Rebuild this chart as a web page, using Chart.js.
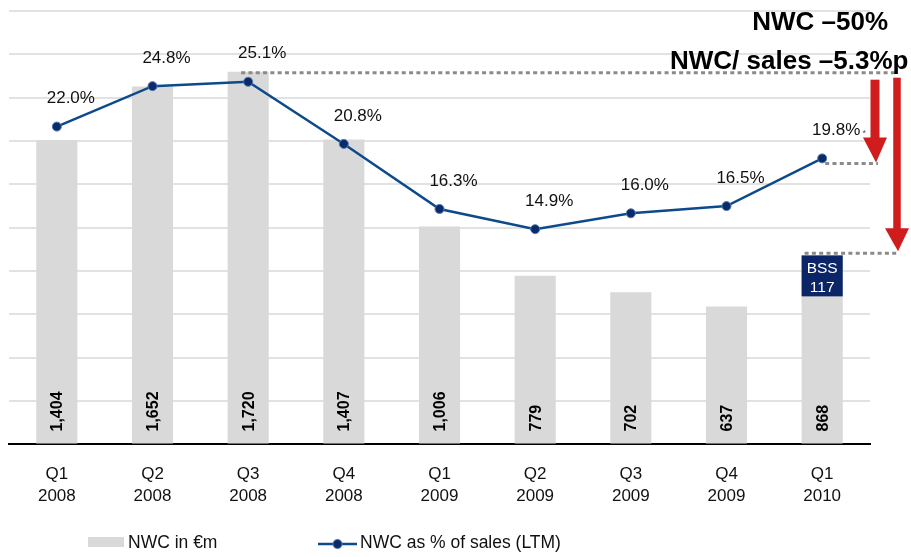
<!DOCTYPE html>
<html>
<head>
<meta charset="utf-8">
<script src="https://cdn.jsdelivr.net/npm/chart.js@4/dist/chart.umd.min.js"></script>
<style>
    html, body { margin: 0; padding: 0; background: #fff; }
    #wrap { width: 911px; height: 557px; position: relative; }
</style>
</head>
<body>
<div id="wrap"><canvas id="nwc-chart"></canvas></div>
<script>
// data
var quarters = [['Q1', '2008'], ['Q2', '2008'], ['Q3', '2008'], ['Q4', '2008'],
                ['Q1', '2009'], ['Q2', '2009'], ['Q3', '2009'], ['Q4', '2009'], ['Q1', '2010']];
var nwcValues = [1404, 1652, 1720, 1407, 1006, 779, 702, 637, 868];
var nwcSalesPct = [22.0, 24.8, 25.1, 20.8, 16.3, 14.9, 16.0, 16.5, 19.8];
var bssLabel = ['BSS', '117'];
var seriesNames = ['NWC in €m', 'NWC as % of sales (LTM)'];
var headlines = ['NWC –50%', 'NWC/ sales –5.3%p'];

var FONT = '"Liberation Sans", Arial, sans-serif';
var BAR_GREY = '#d9d9d9';
var LINE_BLUE = '#0c4a8c';
var DOT_NAVY = '#0a2a68';
var ARROW_RED = '#d01c1c';

function dotted(ctx, x0, x1, y) {
    ctx.save();
    ctx.strokeStyle = '#8a8a8a';
    ctx.lineWidth = 3;
    ctx.setLineDash([4, 3.3]);
    ctx.beginPath();
    ctx.moveTo(x0, y);
    ctx.lineTo(x1, y);
    ctx.stroke();
    ctx.restore();
}

function arrow(ctx, x, yTop, yTip, shaftW, headW, headH) {
    ctx.save();
    ctx.fillStyle = ARROW_RED;
    ctx.fillRect(x - shaftW / 2, yTop, shaftW, yTip - headH - yTop + 1);
    ctx.beginPath();
    ctx.moveTo(x - headW / 2, yTip - headH);
    ctx.lineTo(x + headW / 2, yTip - headH);
    ctx.lineTo(x + 1, yTip);
    ctx.closePath();
    ctx.fill();
    ctx.restore();
}

// labels, BSS box, dotted guides and arrows
var overlayPlugin = {
    id: 'overlay',
    afterDatasetsDraw: function(chart) {
        var ctx = chart.ctx;
        var area = chart.chartArea;
        var yBar = chart.scales.y;
        var yPct = chart.scales.y1;
        var bars = chart.getDatasetMeta(0).data;
        var points = chart.getDatasetMeta(1).data;
        var last = bars.length - 1;

        ctx.save();

        // BSS box on top of the last bar
        var b = bars[last];
        var bw = b.width;
        ctx.fillStyle = '#0b2566';
        ctx.fillRect(b.x - bw / 2, b.y - 1, bw, 41);
        ctx.fillStyle = '#fff';
        ctx.font = '15.5px ' + FONT;
        ctx.textAlign = 'center';
        ctx.textBaseline = 'middle';
        ctx.fillText(bssLabel[0], b.x, b.y + 12);
        ctx.fillText(bssLabel[1], b.x, b.y + 31);

        // bar values, rotated
        ctx.fillStyle = '#000';
        ctx.font = 'bold 16px ' + FONT;
        ctx.textAlign = 'left';
        ctx.textBaseline = 'middle';
        bars.forEach(function(bar, i) {
            ctx.save();
            ctx.translate(bar.x + 1, yBar.getPixelForValue(0) - 13);
            ctx.rotate(-Math.PI / 2);
            ctx.fillText(nwcValues[i].toLocaleString('en-US'), 0, 0);
            ctx.restore();
        });

        // percentage labels
        ctx.font = '17px ' + FONT;
        ctx.fillStyle = '#111';
        ctx.textAlign = 'center';
        points.forEach(function(pt, i) {
            ctx.fillText(nwcSalesPct[i].toFixed(1) + '%', pt.x + 14, pt.y - 28);
        });
        ctx.font = '9px ' + FONT;
        ctx.fillStyle = '#555';
        ctx.fillText('*', points[last].x + 42, points[last].y - 25);

        // dotted guides
        var yPeak = yBar.getPixelForValue(nwcValues[2]) + 1;
        var yNow = yPct.getPixelForValue(nwcSalesPct[last]) + 5;
        var yBarNow = yBar.getPixelForValue(nwcValues[last]) - 3;
        dotted(ctx, points[2].x - 7, area.right + 27, yPeak);
        dotted(ctx, points[last].x + 3, area.right + 8, yNow);
        dotted(ctx, b.x - bw / 2 + 3, area.right + 27, yBarNow);

        // red arrows
        arrow(ctx, area.right + 5, yPeak + 7, yNow - 1, 9, 24, 25);
        arrow(ctx, area.right + 27, yPeak + 5, yBarNow - 2, 7.5, 24, 23);

        // headlines
        ctx.fillStyle = '#000';
        ctx.font = 'bold 26px ' + FONT;
        ctx.textBaseline = 'alphabetic';
        ctx.textAlign = 'right';
        ctx.fillText(headlines[0], 888, 30);
        ctx.textAlign = 'left';
        ctx.fillText(headlines[1], 670, 69);

        ctx.restore();
    },
    afterDraw: function(chart) {
        // legend along the bottom
        var ctx = chart.ctx;
        ctx.save();
        ctx.fillStyle = BAR_GREY;
        ctx.fillRect(88, 537, 36, 10);
        ctx.strokeStyle = LINE_BLUE;
        ctx.lineWidth = 2.5;
        ctx.beginPath();
        ctx.moveTo(318, 544);
        ctx.lineTo(357, 544);
        ctx.stroke();
        ctx.beginPath();
        ctx.arc(337.5, 544, 4.5, 0, Math.PI * 2);
        ctx.fillStyle = DOT_NAVY;
        ctx.fill();
        ctx.lineWidth = 1;
        ctx.strokeStyle = '#4f78b5';
        ctx.stroke();
        ctx.fillStyle = '#111';
        ctx.font = '17.5px ' + FONT;
        ctx.textAlign = 'left';
        ctx.textBaseline = 'middle';
        ctx.fillText(seriesNames[0], 128, 543);
        ctx.fillText(seriesNames[1], 360, 543);
        ctx.restore();
    }
};

var nwcCtx = document.getElementById('nwc-chart');
var nwcChart = new Chart(nwcCtx, {
    type: 'bar',
    data: {
        labels: quarters,
        datasets: [{
            label: seriesNames[0],
            data: nwcValues,
            backgroundColor: BAR_GREY,
            borderWidth: 0,
            categoryPercentage: 1,
            barPercentage: 0.43,
            yAxisID: 'y',
            order: 1
        }, {
            type: 'line',
            label: seriesNames[1],
            data: nwcSalesPct,
            borderColor: LINE_BLUE,
            borderWidth: 2.5,
            tension: 0,
            pointRadius: 4.5,
            pointBackgroundColor: DOT_NAVY,
            pointBorderColor: '#4f78b5',
            pointBorderWidth: 1,
            yAxisID: 'y1',
            order: 0
        }]
    },
    options: {
        responsive: true,
        maintainAspectRatio: false,
        animation: false,
        layout: {
            padding: { top: 11, left: 9, right: 41, bottom: 31 }
        },
        plugins: {
            legend: { display: false },
            tooltip: { enabled: false }
        },
        scales: {
            x: {
                grid: { display: false, drawTicks: false },
                border: { display: true, color: '#000', width: 2 },
                ticks: {
                    color: '#111',
                    padding: 19,
                    font: { family: FONT, size: 17, lineHeight: 1.28 }
                }
            },
            y: {
                min: 0,
                max: 2000,
                ticks: { display: false, stepSize: 200 },
                border: { display: false },
                grid: {
                    drawTicks: false,
                    lineWidth: 2,
                    color: function(c) {
                        return c.tick && c.tick.value === 0 ? 'rgba(0,0,0,0)' : '#e2e2e2';
                    }
                }
            },
            y1: {
                display: false,
                min: 0,
                max: 30
            }
        }
    },
    plugins: [overlayPlugin]
});
</script>
</body>
</html>
